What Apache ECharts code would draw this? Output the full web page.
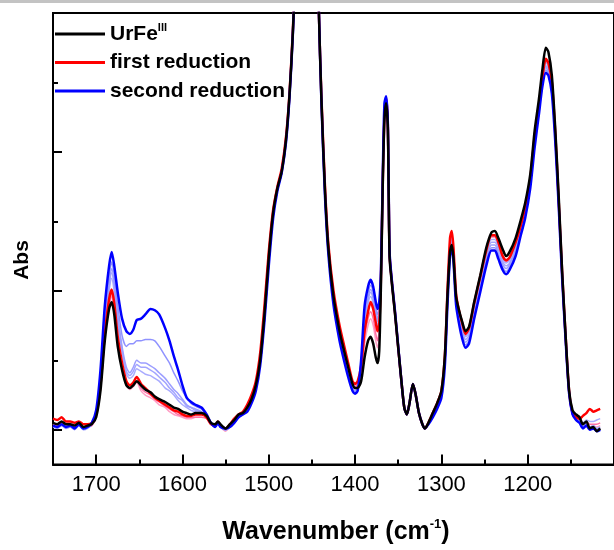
<!DOCTYPE html>
<html><head><meta charset="utf-8">
<script src="https://cdn.jsdelivr.net/npm/echarts@6/dist/echarts.min.js"></script>
<style>html,body{margin:0;padding:0;background:#fff}#c{width:614px;height:550px}</style>
</head><body><div id="c"></div>
<script>
const wavenumber = [
1750,1745,1740,1735,1730,1725,1720,1715,1710,1705,
1700,1695,1690,1685,1682,1679,1675,1670,1665,1661,
1657,1653,1648,1643,1637,1632,1627,1620,1615,1610,
1605,1600,1595,1590,1585,1578,1572,1567,1562,1559,
1556,1550,1545,1540,1535,1530,1525,1520,1515,1510,
1505,1500,1495,1490,1485,1480,1476,1472,1468,1462,
1455,1448,1445,1442,1439,1435,1431,1425,1418,1414,
1408,1403,1400,1397,1393,1389,1385,1382,1379,1376,
1374,1372,1370,1368,1366,1364,1362,1360,1357,1354,
1350,1346,1343,1340,1337,1333,1330,1326,1322,1319,
1315,1310,1305,1300,1296,1293,1290,1288,1286,1283,
1280,1276,1272,1268,1262,1255,1248,1242,1238,1234,
1229,1225,1221,1214,1208,1203,1197,1192,1187,1183,
1179,1176,1172,1168,1164,1160,1156,1152,1148,1144,
1140,1136,1132,1128,1124,1120,1116];

const urFeIII = [
.005,.004,.006,.004,.004,.003,.005,.002,.003,.004,
.009,.028,.064,.087,.092,.083,.060,.043,.032,.030,
.032,.035,.032,.029,.027,.024,.022,.020,.018,.016,
.015,.013,.012,.011,.012,.012,.010,.005,.004,.006,
.004,.001,.004,.007,.011,.012,.016,.022,.032,.050,
.083,.124,.156,.174,.186,.209,.241,.287,.360,.600,
.700,.550,.400,.302,.238,.174,.131,.096,.071,.060,
.045,.033,.030,.030,.035,.052,.064,.067,.062,.052,
.048,.057,.105,.174,.223,.235,.216,.124,.103,.085,
.059,.033,.016,.011,.019,.033,.026,.012,.004,.001,
.005,.012,.019,.028,.053,.096,.128,.133,.124,.096,
.087,.078,.071,.074,.092,.111,.131,.142,.143,.138,
.130,.125,.128,.138,.151,.163,.184,.215,.238,.259,
.275,.272,.255,.216,.167,.113,.067,.028,.014,.011,
.009,.004,.006,.001,.002,-.001,.001];

const firstReduction = [
.008,.007,.009,.006,.006,.005,.006,.004,.004,.005,
.011,.032,.069,.094,.101,.091,.067,.048,.035,.032,
.034,.038,.033,.030,.026,.023,.021,.018,.016,.014,
.013,.011,.010,.010,.011,.011,.009,.004,.003,.006,
.003,.001,.004,.008,.011,.013,.018,.025,.035,.055,
.089,.128,.158,.175,.188,.211,.242,.289,.362,.600,
.700,.550,.400,.302,.240,.177,.134,.100,.075,.064,
.048,.035,.033,.035,.046,.071,.085,.092,.087,.077,
.071,.076,.110,.176,.225,.239,.218,.126,.104,.086,
.059,.033,.016,.011,.019,.033,.026,.012,.004,.001,
.005,.012,.019,.028,.053,.099,.138,.143,.131,.098,
.087,.077,.069,.073,.091,.110,.129,.140,.140,.135,
.125,.122,.124,.135,.147,.160,.181,.211,.233,.253,
.267,.264,.250,.213,.164,.112,.067,.028,.012,.009,
.008,.010,.012,.015,.013,.014,.015];

const secondReduction = [
.003,.002,.004,.002,.003,.001,.004,.001,.002,.005,
.014,.043,.089,.118,.128,.118,.099,.080,.071,.069,
.072,.079,.080,.083,.087,.086,.083,.073,.064,.053,
.043,.032,.023,.020,.018,.016,.011,.005,.002,.005,
.002,.001,.002,.005,.009,.011,.013,.019,.028,.046,
.078,.118,.152,.172,.185,.207,.239,.286,.358,.600,
.700,.550,.400,.303,.236,.170,.127,.090,.064,.053,
.038,.028,.026,.028,.050,.089,.103,.108,.103,.092,
.087,.092,.115,.181,.235,.240,.220,.128,.105,.087,
.060,.033,.016,.011,.019,.033,.026,.012,.004,.001,
.004,.009,.015,.023,.046,.089,.125,.131,.121,.090,
.078,.066,.059,.062,.080,.099,.118,.129,.129,.123,
.115,.112,.115,.125,.140,.152,.174,.203,.227,.247,
.257,.255,.242,.207,.160,.108,.064,.026,.011,.007,
.005,.001,.003,.000,.001,-.001,.000];

const step1 = [
.002,.001,.003,.001,.002,.000,.003,.000,.001,.004,
.013,.040,.083,.110,.121,.111,.090,.068,.060,.062,
.062,.064,.064,.065,.065,.064,.060,.053,.048,.041,
.035,.028,.023,.019,.017,.015,.011,.005,.002,.005,
.002,.000,.002,.005,.009,.011,.014,.020,.029,.047,
.079,.120,.153,.172,.185,.208,.240,.286,.359,.600,
.700,.550,.400,.302,.237,.172,.129,.092,.066,.055,
.040,.029,.027,.030,.048,.084,.098,.104,.099,.088,
.083,.088,.113,.179,.232,.239,.219,.127,.104,.086,
.059,.033,.016,.011,.019,.033,.026,.012,.004,.001,
.004,.010,.016,.024,.048,.091,.127,.133,.123,.092,
.080,.068,.061,.064,.082,.101,.120,.131,.131,.125,
.117,.114,.117,.127,.142,.154,.176,.205,.228,.248,
.259,.257,.244,.208,.161,.109,.065,.026,.011,.007,
.005,.001,.003,.000,.001,-.001,.000];

const step2 = [
.002,.002,.003,.002,.002,.001,.003,.001,.002,.004,
.012,.037,.078,.105,.116,.106,.083,.060,.045,.041,
.045,.050,.048,.048,.046,.044,.041,.037,.033,.029,
.026,.022,.018,.016,.015,.013,.010,.005,.002,.005,
.002,.000,.002,.005,.009,.011,.014,.020,.030,.048,
.080,.121,.154,.172,.185,.208,.240,.286,.359,.600,
.700,.550,.400,.302,.237,.172,.129,.093,.067,.056,
.041,.030,.027,.030,.046,.081,.095,.101,.096,.085,
.080,.086,.112,.178,.230,.238,.218,.126,.104,.086,
.059,.033,.016,.011,.019,.033,.026,.012,.004,.001,
.004,.010,.016,.025,.049,.093,.129,.135,.125,.093,
.082,.070,.063,.066,.084,.103,.122,.133,.133,.127,
.119,.116,.119,.129,.143,.155,.177,.206,.229,.249,
.261,.258,.246,.209,.162,.110,.065,.027,.011,.008,
.006,.002,.004,.001,.002,.000,.001];

const step3 = [
.003,.002,.004,.002,.003,.001,.003,.001,.002,.004,
.012,.036,.076,.103,.113,.103,.080,.058,.042,.039,
.042,.047,.045,.045,.043,.041,.038,.034,.030,.027,
.023,.021,.017,.016,.014,.013,.010,.005,.002,.005,
.002,.000,.002,.005,.009,.011,.014,.020,.030,.048,
.080,.121,.154,.173,.186,.208,.240,.287,.359,.600,
.700,.550,.400,.302,.237,.173,.130,.093,.068,.057,
.042,.030,.028,.030,.045,.079,.093,.099,.094,.083,
.078,.084,.112,.178,.229,.237,.217,.126,.103,.086,
.059,.033,.016,.011,.019,.033,.026,.012,.004,.001,
.004,.011,.017,.025,.050,.094,.131,.137,.126,.094,
.083,.072,.065,.068,.086,.105,.124,.135,.135,.130,
.121,.118,.120,.131,.144,.156,.178,.207,.230,.250,
.262,.260,.247,.210,.162,.110,.066,.027,.012,.008,
.006,.003,.005,.002,.003,.001,.002];

const step4 = [
.003,.002,.004,.003,.003,.002,.004,.001,.002,.004,
.011,.035,.074,.100,.109,.099,.077,.056,.040,.037,
.039,.044,.042,.040,.039,.037,.035,.030,.028,.025,
.021,.018,.016,.014,.013,.012,.010,.005,.002,.005,
.002,.000,.002,.005,.009,.011,.014,.020,.030,.048,
.081,.122,.155,.173,.186,.209,.240,.287,.360,.600,
.700,.550,.400,.302,.238,.173,.130,.094,.069,.058,
.043,.031,.028,.031,.044,.077,.091,.096,.091,.080,
.075,.082,.111,.177,.228,.237,.217,.125,.103,.085,
.059,.033,.016,.011,.019,.033,.026,.012,.004,.001,
.005,.011,.017,.026,.051,.096,.133,.139,.128,.095,
.085,.074,.067,.070,.088,.107,.126,.137,.137,.132,
.123,.120,.122,.133,.145,.158,.179,.209,.231,.251,
.264,.262,.248,.211,.163,.111,.066,.027,.012,.008,
.007,.005,.007,.006,.006,.007,.008];

const pinkA = [
.004,.003,.005,.003,.003,.002,.004,.001,.002,.003,
.010,.031,.067,.091,.098,.088,.064,.045,.033,.030,
.033,.035,.030,.027,.025,.022,.020,.017,.015,.013,
.011,.010,.009,.009,.009,.009,.008,.004,.003,.005,
.003,.000,.003,.006,.010,.012,.016,.023,.033,.052,
.086,.126,.157,.174,.187,.210,.241,.288,.360,.600,
.700,.550,.400,.302,.239,.176,.133,.098,.073,.062,
.047,.034,.031,.033,.042,.067,.080,.085,.080,.069,
.064,.072,.108,.175,.224,.237,.217,.125,.103,.085,
.059,.033,.016,.011,.019,.033,.026,.012,.004,.001,
.004,.011,.018,.027,.052,.097,.135,.141,.129,.097,
.086,.076,.068,.072,.090,.109,.128,.139,.139,.134,
.124,.121,.123,.134,.146,.159,.180,.210,.232,.252,
.265,.263,.249,.212,.164,.111,.066,.027,.011,.008,
.006,.004,.006,.004,.004,.004,.005];

const pinkB = [
.004,.003,.004,.003,.003,.002,.003,.001,.002,.003,
.009,.030,.066,.089,.096,.086,.062,.044,.032,.029,
.031,.034,.028,.025,.023,.021,.018,.016,.013,.011,
.010,.009,.008,.008,.009,.009,.008,.004,.002,.005,
.002,-.001,.002,.006,.010,.012,.016,.023,.033,.052,
.086,.126,.157,.174,.187,.210,.241,.288,.360,.600,
.700,.550,.400,.302,.239,.176,.133,.098,.073,.062,
.047,.034,.031,.033,.040,.062,.075,.080,.075,.064,
.059,.066,.107,.175,.224,.237,.217,.125,.103,.085,
.059,.033,.016,.011,.019,.033,.026,.012,.004,.001,
.004,.011,.018,.027,.052,.098,.136,.142,.130,.097,
.086,.076,.068,.072,.090,.109,.128,.139,.139,.134,
.124,.121,.123,.134,.146,.159,.180,.210,.232,.252,
.265,.262,.249,.212,.164,.111,.066,.027,.011,.007,
.005,.003,.005,.002,.003,.002,.003];

const xMinorTicks = [1650,1550,1450,1350,1250,1150];
const yMajorTicks = [0, 0.1, 0.2, 0.3];
const yMinorTicks = [0.05, 0.15, 0.25];

const FONT = 'Liberation Sans, Arial, sans-serif';
function pairs(vals){ return wavenumber.map((w,i)=>[w, vals[i]]); }
function mk(name, vals, color, width){
  return { name, type:'line', data:pairs(vals), symbol:'none', smooth:0.25,
    lineStyle:{color, width}, itemStyle:{color}, clip:true, animation:false, z:2 };
}

const chart = echarts.init(document.getElementById('c'), null, {renderer:'canvas'});
chart.setOption({
  animation:false,
  backgroundColor:'#ffffff',
  graphic:[
    {type:'rect', shape:{x:0,y:0,width:614,height:3}, style:{fill:'#c3c3c3'}, z:100},
    {type:'text', x:22, y:260, rotation:Math.PI/2, z:100,
     style:{text:'Abs', align:'center', verticalAlign:'middle', font:'bold 21px "Liberation Sans", Arial, sans-serif', fill:'#000'}}
  ],
  grid:{left:53, right:-14, top:13, bottom:79, show:true, borderColor:'#000', borderWidth:2, backgroundColor:'transparent'},
  legend:{
    data:['UrFeIII','first reduction','second reduction'],
    orient:'vertical', left:55, top:22, padding:0, itemWidth:50, itemHeight:3, itemGap:7.5, icon:'rect',
    formatter:n => n==='UrFeIII' ? '{b|UrFe}{s|III}' : '{b|'+n+'}',
    textStyle:{fontFamily:FONT, fontWeight:'bold', fontSize:21, color:'#000',
      rich:{b:{fontFamily:FONT, fontWeight:'bold', fontSize:21, lineHeight:24, color:'#000'},
            s:{fontFamily:FONT, fontWeight:'bold', fontSize:11, lineHeight:24, verticalAlign:'top', color:'#000'}}}
  },
  xAxis:[{
    type:'value', inverse:true, min:1100, max:1750, interval:100, position:'bottom',
    axisLine:{show:true, onZero:false, lineStyle:{color:'#000', width:2}},
    axisTick:{show:true, inside:true, length:10, lineStyle:{color:'#000', width:2}},
    axisLabel:{show:true, margin:9, fontFamily:FONT, fontSize:22, color:'#000', showMinLabel:false, showMaxLabel:false,
      formatter:v => String(v)},
    splitLine:{show:false},
    name:'{a|Wavenumber (cm}{s|-1}{a|)}', nameLocation:'middle', nameGap:53,
    nameTextStyle:{fontFamily:FONT, fontWeight:'bold', fontSize:25, color:'#000', padding:[0,0,0,5],
      rich:{a:{fontFamily:FONT, fontWeight:'bold', fontSize:25, lineHeight:30, color:'#000'},
            s:{fontFamily:FONT, fontWeight:'bold', fontSize:13, lineHeight:30, verticalAlign:'top', color:'#000'}}}
  },{
    type:'value', inverse:true, min:1100, max:1750, position:'bottom',
    axisLine:{show:false, onZero:false}, axisLabel:{show:false}, splitLine:{show:false},
    axisTick:{show:true, inside:true, length:5, customValues:xMinorTicks, lineStyle:{color:'#000', width:2}}
  }],
  yAxis:[{
    type:'value', min:-0.025, max:0.3, position:'left',
    axisLine:{show:true, onZero:false, lineStyle:{color:'#000', width:2}},
    axisTick:{show:true, inside:true, length:9, customValues:yMajorTicks, lineStyle:{color:'#000', width:2}},
    axisLabel:{show:false}, splitLine:{show:false}
  },{
    type:'value', min:-0.025, max:0.3, position:'left',
    axisLine:{show:false, onZero:false}, axisLabel:{show:false}, splitLine:{show:false},
    axisTick:{show:true, inside:true, length:5, customValues:yMinorTicks, lineStyle:{color:'#000', width:2}}
  }],
  series:[
    mk('pB', pinkB, '#ff9ec4', 1.5),
    mk('pA', pinkA, '#ff6fa3', 1.5),
    mk('s4', step4, '#a9abff', 1.5),
    mk('s3', step3, '#a3a5ff', 1.5),
    mk('s2', step2, '#9c9eff', 1.5),
    mk('s1', step1, '#8f92ff', 1.5),
    mk('first reduction', firstReduction, '#ff0000', 2.5),
    mk('second reduction', secondReduction, '#0000ff', 2.5),
    mk('UrFeIII', urFeIII, '#000000', 2.5)
  ]
});
</script>
</body></html>
